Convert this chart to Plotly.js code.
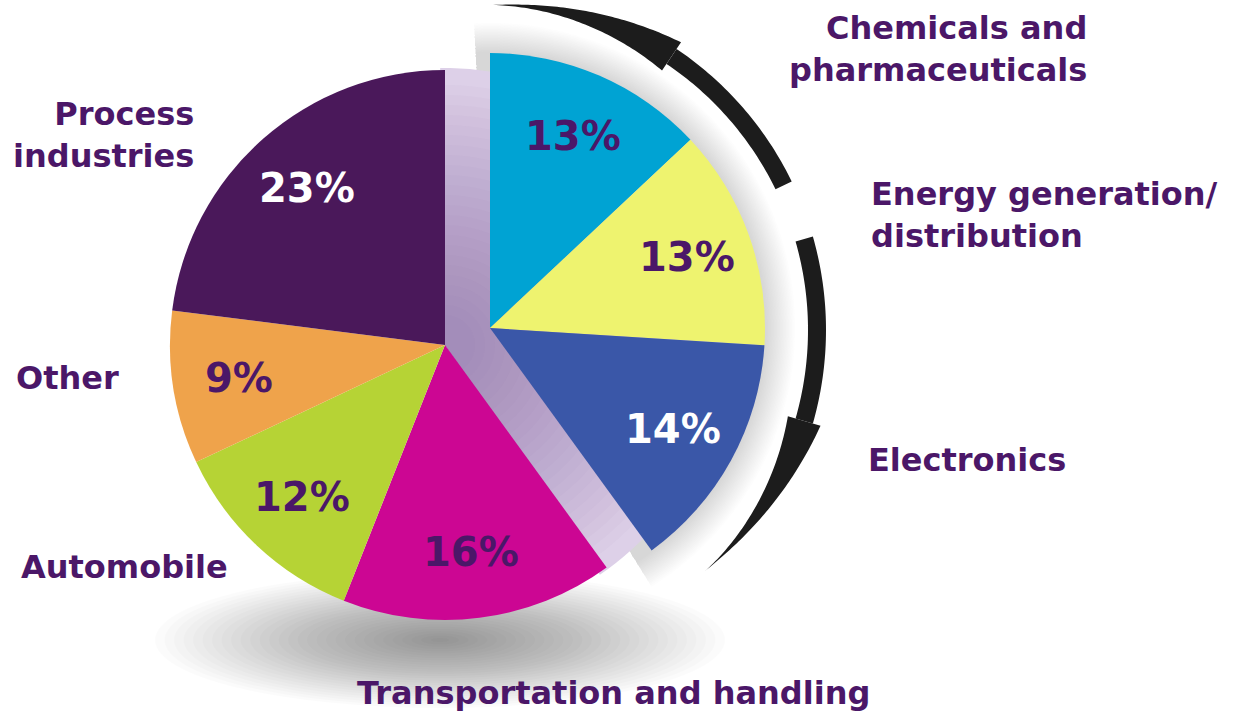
<!DOCTYPE html>
<html><head><meta charset="utf-8">
<script src="https://cdn.plot.ly/plotly-3.0.1.min.js"></script>
<style>html,body{margin:0;padding:0;background:#fff}#chart{width:1240px;height:714px}</style>
</head><body><div id="chart"></div>
<script>
// ---- data ----
const categories = ['Chemicals and<br>pharmaceuticals','Energy generation/<br>distribution','Electronics','Transportation and handling','Automobile','Other','Process<br>industries'];
const shares = [13, 13, 14, 16, 12, 9, 23];
const percentLabels = ['13%','13%','14%','16%','12%','9%','23%'];
const sliceColors = ['#00a3d3','#eef36f','#3a57a8','#cc0693','#b6d335','#efa34b','#4a185a'];
const percentColors = ['#4b1768','#4b1768','#ffffff','#4b1768','#4b1768','#4b1768','#ffffff'];
const pulledOut = [true, true, true, false, false, false, false];

// ---- geometry (layout only) ----
const W = 1240, H = 714;
const mainC = [445, 345], pullC = [490, 328], R = 275;
const arrowC = [487, 330], AR = 330;
const px = x => x / W, py = y => 1 - y / H;
function dom(c){ return {x:[px(c[0]-R), px(c[0]+R)], y:[py(c[1]+R), py(c[1]-R)]}; }
function pt(c, r, deg){ const a = deg*Math.PI/180; return [c[0]+r*Math.sin(a), c[1]-r*Math.cos(a)]; }
function P(p){ return px(p[0]).toFixed(5)+','+py(p[1]).toFixed(5); }
const clear = 'rgba(0,0,0,0)';
const total = shares.reduce((a,b)=>a+b,0);

const base = {type:'pie', values:shares, labels:categories, sort:false, direction:'clockwise', rotation:0,
  textinfo:'none', hoverinfo:'label+percent', showlegend:false};
const traces = [
  Object.assign({}, base, {domain:dom(mainC), marker:{colors:sliceColors.map((c,i)=>pulledOut[i]?clear:c), line:{width:0}}}),
  Object.assign({}, base, {domain:dom(pullC), marker:{colors:sliceColors.map((c,i)=>pulledOut[i]?c:clear), line:{width:0}}})
];

// ---- decorations ----
const shapes = [];
function sector(c, r, a0, a1, fill, op){
  let d = 'M'+P(c);
  const n = 72;
  for(let k=0;k<=n;k++){ d += ' L'+P(pt(c, r, a0+(a1-a0)*k/n)); }
  d += ' Z';
  shapes.push({type:'path', xref:'paper', yref:'paper', path:d, fillcolor:fill, opacity:op, line:{width:0}, layer:'below'});
}
// bottom shadow (soft)
const NS = 30;
for(let i=0;i<NS;i++){
  const f = 1 - i/NS, rx = 285*f, ry = 68*f, cx = 440, cy = 640;
  shapes.push({type:'circle', xref:'paper', yref:'paper', x0:px(cx-rx), x1:px(cx+rx), y0:py(cy+ry), y1:py(cy-ry),
    fillcolor:'#000', opacity:0.016, line:{width:0}, layer:'below'});
}
// halo around pulled group
for(let i=0;i<20;i++){ sector(pullC, R+30-i*1.5, -3, 148, '#8a8a9c', 0.02); }
// lavender gap glow
sector(mainC, R+2, -1, 146, '#ddd0e8', 1);
for(let i=0;i<24;i++){ sector(mainC, 260-i*10, -1, 146, '#8c6fae', 0.03); }

// curved arrows
function arrow(a0, aHead, aTip){
  const w = 9, n = 40;
  let outer = [], inner = [];
  for(let k=0;k<=n;k++){ const a = a0+(aHead-a0)*k/n; outer.push(pt(arrowC, AR+w, a)); inner.push(pt(arrowC, AR-w, a)); }
  let d = 'M'+P(outer[0]); outer.slice(1).forEach(p=>d+=' L'+P(p));
  inner.reverse().forEach(p=>d+=' L'+P(p)); d+=' Z';
  shapes.push({type:'path', xref:'paper', yref:'paper', path:d, fillcolor:'#1c1c1c', line:{width:0}, layer:'above'});
  outer=[]; inner=[];
  const m = 60;
  for(let k=0;k<=m;k++){
    const t = k/m, a = aHead+(aTip-aHead)*t;
    const cr = AR - 5*t, hw = 17*Math.pow(1-t,1.4);
    outer.push(pt(arrowC, cr+hw, a)); inner.push(pt(arrowC, cr-hw, a));
  }
  d = 'M'+P(outer[0]); outer.slice(1).forEach(p=>d+=' L'+P(p));
  inner.reverse().forEach(p=>d+=' L'+P(p)); d+=' Z';
  shapes.push({type:'path', xref:'paper', yref:'paper', path:d, fillcolor:'#1c1c1c', line:{width:0}, layer:'above'});
}
arrow(64, 34, 0.5);
arrow(74, 106, 138);

// ---- annotations ----
const ann = [];
let cum = 0;
shares.forEach((v,i)=>{
  const mid = (cum + v/2)/total*360; cum += v;
  const c = pulledOut[i] ? pullC : mainC;
  const p = pt(c, R*0.76, mid);
  ann.push({xref:'paper', yref:'paper', x:px(p[0]), y:py(p[1]), text:percentLabels[i], showarrow:false,
    xanchor:'center', yanchor:'middle', font:{family:'DejaVu Sans', size:40, weight:'bold', color:percentColors[i]}});
});
const labelPos = [
  {x:1089, y:49, xa:'right', al:'right'},
  {x:869, y:215, xa:'left', al:'left'},
  {x:866, y:460, xa:'left', al:'left'},
  {x:613, y:693, xa:'center', al:'center'},
  {x:124, y:567, xa:'center', al:'center'},
  {x:14, y:378, xa:'left', al:'left'},
  {x:196, y:135, xa:'right', al:'right'}
];
categories.forEach((t,i)=>{
  const L = labelPos[i];
  ann.push({xref:'paper', yref:'paper', x:px(L.x), y:py(L.y), text:t, showarrow:false, xanchor:L.xa, yanchor:'middle', align:L.al,
    font:{family:'DejaVu Sans', size:32, weight:'bold', color:'#4b1768'}});
});

Plotly.newPlot('chart', traces, {
  width:W, height:H, margin:{l:0,r:0,t:0,b:0}, paper_bgcolor:'#fff', plot_bgcolor:'#fff',
  shapes:shapes, annotations:ann, showlegend:false
}, {displayModeBar:false, staticPlot:true});
</script>
</body></html>
